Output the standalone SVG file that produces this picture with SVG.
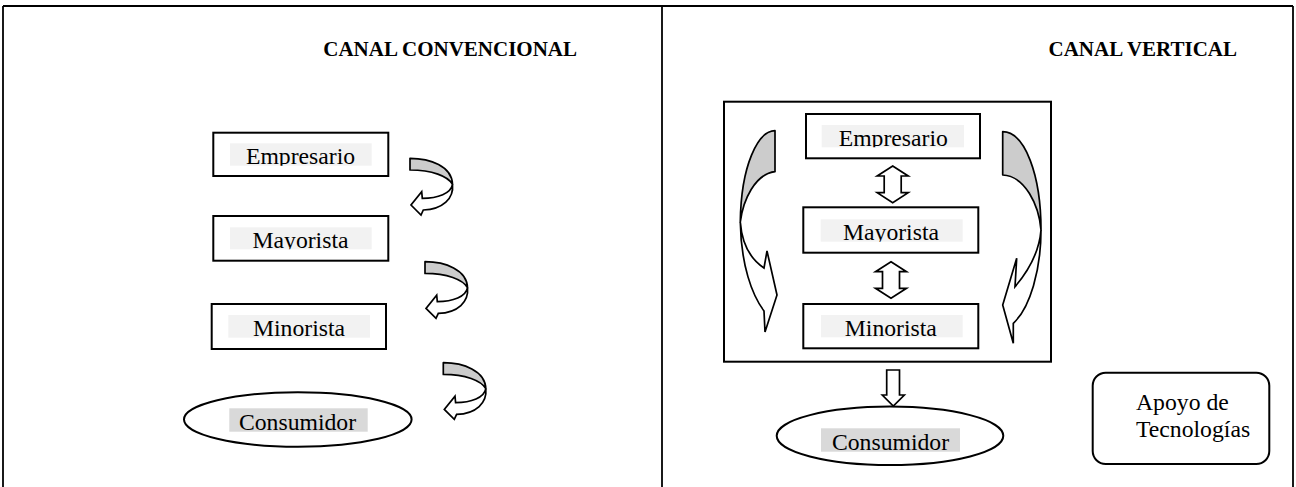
<svg xmlns="http://www.w3.org/2000/svg" width="1296" height="487" viewBox="0 0 1296 487">
  <style>
    .frame { fill: none; stroke: #000; stroke-width: 1.8; }
    .box { fill: #fff; stroke: #000; stroke-width: 2; }
    .lbl-bg { fill: #f2f2f2; }
    .lbl-bg-dark { fill: #d9d9d9; }
    .lbl { font-family: "Liberation Serif", "Times New Roman", serif; font-size: 23.7px; fill: #000; text-anchor: middle; }
    .title { font-family: "Liberation Serif", "Times New Roman", serif; font-size: 21px; font-weight: bold; fill: #000; text-anchor: end; }
    .back { fill: #cccccc; stroke: #000; stroke-width: 1.7; stroke-linejoin: round; }
    .front { fill: #fff; stroke: #000; stroke-width: 1.7; stroke-linejoin: miter; }
    .block { fill: #fff; stroke: #000; stroke-width: 1.7; stroke-linejoin: miter; }
  </style>
  <defs>
    <!-- ribbon arrow that swings out to the right and returns pointing left -->
    <g id="curl">
      <path class="back" d="M0,0 C20,0 42,8 42.5,26 C38,18 22,11.7 0,11.7 Z"/>
      <path class="front" d="M42.5,26 C41,35 28,40 12.3,40 L11.7,33.4 L1,46.7 L11,56.7 L13.3,51.7 C33,51 44,40 42.5,26 Z"/>
    </g>
    <clipPath id="c-emp-l" clipPathUnits="userSpaceOnUse"><rect x="230" y="143.3" width="141.7" height="22.4"/></clipPath>
    <clipPath id="c-may-l" clipPathUnits="userSpaceOnUse"><rect x="230" y="227.3" width="141.7" height="22"/></clipPath>
    <clipPath id="c-min-l" clipPathUnits="userSpaceOnUse"><rect x="228.3" y="315" width="141.7" height="22.7"/></clipPath>
    <clipPath id="c-con-l" clipPathUnits="userSpaceOnUse"><rect x="229.3" y="408.3" width="138.4" height="23.4"/></clipPath>
    <clipPath id="c-emp-r" clipPathUnits="userSpaceOnUse"><rect x="821.7" y="125" width="142.3" height="22.3"/></clipPath>
    <clipPath id="c-may-r" clipPathUnits="userSpaceOnUse"><rect x="820.7" y="219.3" width="142" height="22.4"/></clipPath>
    <clipPath id="c-min-r" clipPathUnits="userSpaceOnUse"><rect x="821" y="315" width="141.7" height="22.3"/></clipPath>
    <clipPath id="c-con-r" clipPathUnits="userSpaceOnUse"><rect x="821" y="428.3" width="139" height="23.4"/></clipPath>
  </defs>

  <!-- table frame -->
  <g id="frame">
    <line class="frame" x1="3" y1="6" x2="1293" y2="6"/>
    <line class="frame" x1="3" y1="6" x2="3" y2="487"/>
    <line class="frame" x1="662" y1="6" x2="662" y2="487"/>
    <line class="frame" x1="1293" y1="6" x2="1293" y2="487"/>
  </g>

  <text id="title-conv" class="title" x="577" y="56">CANAL CONVENCIONAL</text>
  <text id="title-vert" class="title" x="1237" y="56">CANAL VERTICAL</text>

  <!-- conventional channel -->
  <g id="l-empresario">
    <rect class="box" x="213.3" y="132.7" width="175" height="43.3"/>
    <rect class="lbl-bg" x="230" y="143.3" width="141.7" height="22.4"/>
    <text class="lbl" x="300.5" y="164.3" clip-path="url(#c-emp-l)">Empresario</text>
  </g>
  <g id="l-mayorista">
    <rect class="box" x="213.3" y="216" width="175" height="44.7"/>
    <rect class="lbl-bg" x="230" y="227.3" width="141.7" height="22"/>
    <text class="lbl" x="300.5" y="248.3" clip-path="url(#c-may-l)">Mayorista</text>
  </g>
  <g id="l-minorista">
    <rect class="box" x="211.7" y="304" width="174.3" height="45"/>
    <rect class="lbl-bg" x="228.3" y="315" width="141.7" height="22.7"/>
    <text class="lbl" x="299" y="336" clip-path="url(#c-min-l)">Minorista</text>
  </g>
  <g id="l-consumidor">
    <ellipse class="box" cx="297.8" cy="419.5" rx="113.8" ry="27.2"/>
    <rect class="lbl-bg-dark" x="229.3" y="408.3" width="138.4" height="23.4"/>
    <text class="lbl" x="297.5" y="430" clip-path="url(#c-con-l)">Consumidor</text>
  </g>

  <!-- vertical channel -->
  <g id="r-system">
    <rect class="box" x="724" y="101.7" width="327" height="260"/>
  </g>
  <g id="r-empresario">
    <rect class="box" x="806" y="114" width="174" height="44.3"/>
    <rect class="lbl-bg" x="821.7" y="125" width="142.3" height="22.3"/>
    <text class="lbl" x="893.3" y="146" clip-path="url(#c-emp-r)">Empresario</text>
  </g>
  <g id="r-mayorista">
    <rect class="box" x="803.3" y="207.3" width="175" height="45.4"/>
    <rect class="lbl-bg" x="820.7" y="219.3" width="142" height="22.4"/>
    <text class="lbl" x="891" y="240" clip-path="url(#c-may-r)">Mayorista</text>
  </g>
  <g id="r-minorista">
    <rect class="box" x="803.3" y="304" width="175" height="44.3"/>
    <rect class="lbl-bg" x="821" y="315" width="141.7" height="22.3"/>
    <text class="lbl" x="890.8" y="336" clip-path="url(#c-min-r)">Minorista</text>
  </g>
  <g id="r-consumidor">
    <ellipse class="box" cx="890" cy="435.8" rx="113.3" ry="29.2"/>
    <rect class="lbl-bg-dark" x="821" y="428.3" width="139" height="23.4"/>
    <text class="lbl" x="890.5" y="450" clip-path="url(#c-con-r)">Consumidor</text>
  </g>
  <g id="r-apoyo">
    <rect class="box" x="1092.7" y="372.7" width="176.6" height="91.3" rx="13" ry="13"/>
    <text class="lbl" x="1136" y="410" style="text-anchor:start">Apoyo de</text>
    <text class="lbl" x="1136" y="436.7" style="text-anchor:start">Tecnologías</text>
  </g>

  <!-- connectors -->
  <g id="connectors">
    <use href="#curl" x="410" y="158.3"/>
    <use href="#curl" x="425" y="261.7"/>
    <use href="#curl" x="443.3" y="362.7"/>

    <path class="block" d="M892.7,166 L908.2,176 L901.2,176 L901.2,192.7 L908.2,192.7 L892.7,202.7 L877.2,192.7 L884.2,192.7 L884.2,176 L877.2,176 Z"/>
    <path class="block" d="M891,261.7 L906.5,271.7 L899.5,271.7 L899.5,288.3 L906.5,288.3 L891,298.3 L875.5,288.3 L882.5,288.3 L882.5,271.7 L875.5,271.7 Z"/>
    <path class="block" d="M886.7,370 L899.5,370 L899.5,395 L904.3,395 L893.3,406 L882.3,395 L886.7,395 Z"/>

    <g id="loop-left">
      <path class="back" d="M775,130.7 C758,131 741,165 740.3,222 C743,200 755,174 775,171.7 Z"/>
      <path class="front" d="M740.3,222 C741,265 752,295 764,311 L765,332 L777,295 L767,251 L764,268 C752,260 742,245 740.3,222 Z"/>
    </g>
    <g id="loop-right">
      <path class="back" d="M1002.7,131.7 C1025,132 1041,175 1041,230 C1039,205 1025,176 1002.7,175 Z"/>
      <path class="front" d="M1041,230 C1041,270 1030,308 1013.3,323.3 L1013.3,343.3 L1002.7,305 L1016.7,258.3 L1015,286.7 C1025,275 1039,255 1041,230 Z"/>
    </g>
  </g>
</svg>
